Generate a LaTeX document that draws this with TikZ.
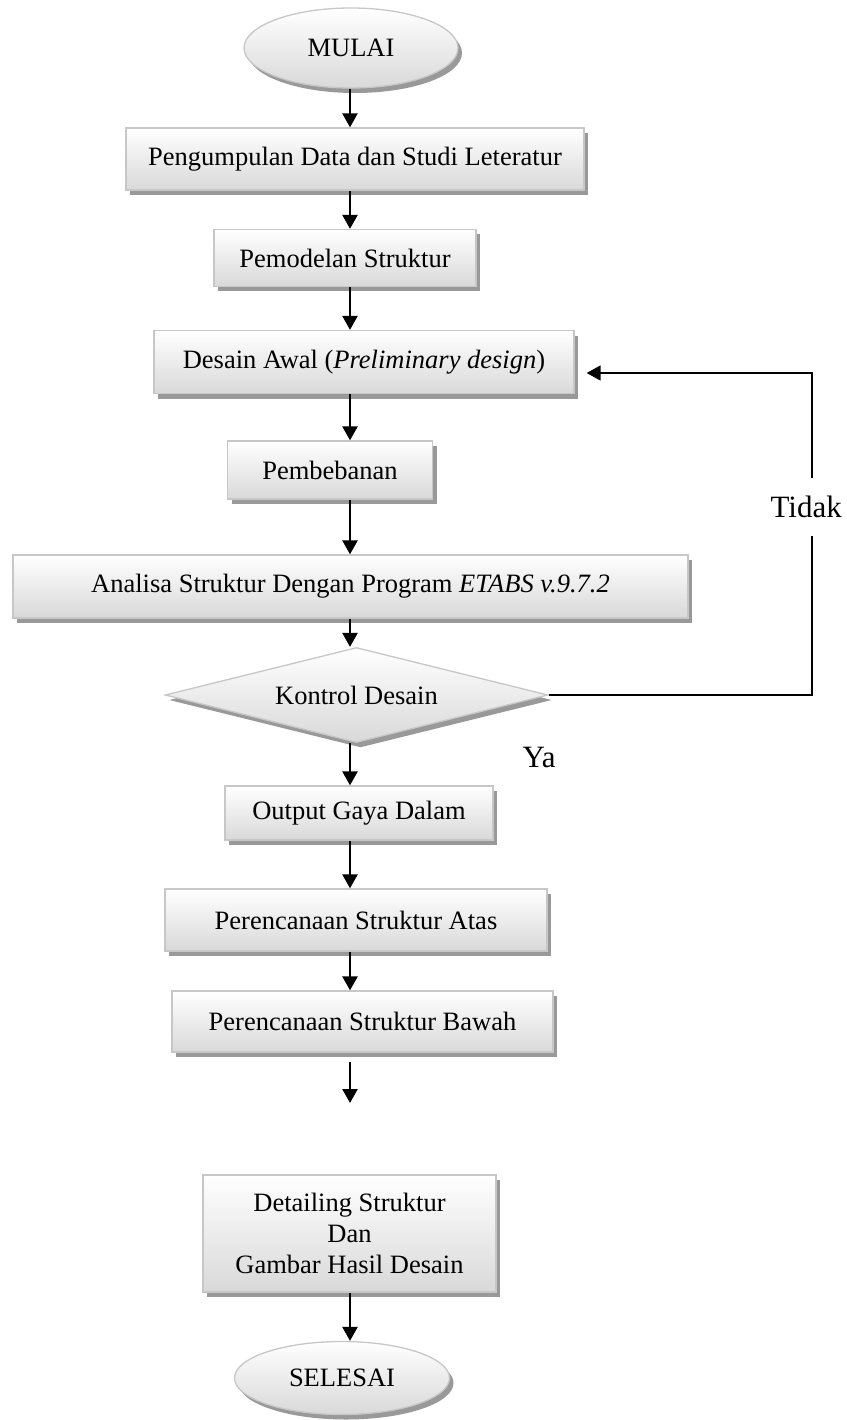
\documentclass[tikz,border=0pt]{standalone}
\usepackage{fontspec}
\setmainfont{Liberation Serif}
\usetikzlibrary{shapes.geometric,shadows,arrows.meta}

\begin{document}
\begin{tikzpicture}[x=1pt,y=-1pt,>={Triangle[width=15pt,length=14pt]},
	every node/.style={font=\fontsize{26.5}{31}\selectfont},
	bayang/.style={drop shadow={shadow xshift=4pt,shadow yshift=-5pt,fill=black!40,opacity=1}},
	isi/.style={draw=black!22,line width=1.3pt,top color=white,bottom color=black!15,bayang},
	kotak/.style={rectangle,isi,align=center,inner sep=0pt},
	oval/.style={ellipse,isi,inner sep=0pt},
	belah/.style={diamond,aspect=4,isi,inner sep=0pt},
	panah/.style={->,line width=2.5pt},
	garis/.style={line width=1.7pt},
	label/.style={font=\fontsize{31}{36}\selectfont,anchor=base west}]

	\useasboundingbox (0,0) rectangle (846,1420);
	\coordinate (sumbu) at (350,0);

	% terminal dan proses
	\node[oval,minimum width=214pt,minimum height=80pt] (mulai) at (351,48) {MULAI};
	\node[kotak,minimum width=458pt,minimum height=62pt] (data) at (355,159) {Pengumpulan Data dan Studi Leteratur};
	\node[kotak,minimum width=262pt,minimum height=57pt] (model) at (345,258) {Pemodelan Struktur};
	\node[kotak,minimum width=420pt,minimum height=63pt] (awal) at (364,362) {Desain Awal (\textit{Preliminary design})};
	\node[kotak,minimum width=205pt,minimum height=58pt] (beban) at (330,470) {Pembebanan};
	\node[kotak,minimum width=675pt,minimum height=63pt] (analisa) at (350.5,586.5) {Analisa Struktur Dengan Program \textit{ETABS v.9.7.2}};
	\node[belah,minimum width=383pt,minimum height=95pt] (kontrol) at (356.5,695) {Kontrol Desain};
	\node[kotak,minimum width=268pt,minimum height=54pt] (gaya) at (359,813) {Output Gaya Dalam};
	\node[kotak,minimum width=382pt,minimum height=62pt] (atas) at (356,920) {Perencanaan Struktur Atas};
	\node[kotak,minimum width=381pt,minimum height=61pt] (bawah) at (362.5,1021.5) {Perencanaan Struktur Bawah};
	\node[kotak,minimum width=293pt,minimum height=117pt] (detail) at (349.5,1233.5) {Detailing Struktur\\Dan\\Gambar Hasil Desain};
	\node[oval,minimum width=215pt,minimum height=73pt] (selesai) at (342,1378) {SELESAI};

	\node[label] (tidak) at (767,517) {Tidak};
	\node[label] (ya) at (519,767) {Ya};

	% alur utama
	\draw[panah] (mulai.south -| sumbu) -- (data.north -| sumbu);
	\draw[panah] (data.south -| sumbu) -- (model.north -| sumbu);
	\draw[panah] (model.south -| sumbu) -- (awal.north -| sumbu);
	\draw[panah] (awal.south -| sumbu) -- (beban.north -| sumbu);
	\draw[panah] (beban.south -| sumbu) -- (analisa.north -| sumbu);
	\draw[panah] (analisa.south -| sumbu) -- (kontrol.north -| sumbu);
	\draw[panah] (kontrol.south -| sumbu) -- (gaya.north -| sumbu);
	\draw[panah] (gaya.south -| sumbu) -- (atas.north -| sumbu);
	\draw[panah] (atas.south -| sumbu) -- (bawah.north -| sumbu);
	\coordinate (pangkal) at (350,1062);
	\coordinate (ujung) at (350,1103);
	\draw[panah] (pangkal) -- (ujung);
	\draw[panah] (detail.south -| sumbu) -- (selesai.north -| sumbu);

	% umpan balik
	\coordinate (fb1) at (812,536);
	\coordinate (fb2) at (812,478);
	\coordinate (fb3) at (812,373);
	\draw[garis] (kontrol.east) -- (kontrol.east -| fb1) -- (fb1);
	\draw[garis,->,shorten >=12pt] (fb2) -- (fb3) -- (awal.east |- fb3);

\end{tikzpicture}
\end{document}
